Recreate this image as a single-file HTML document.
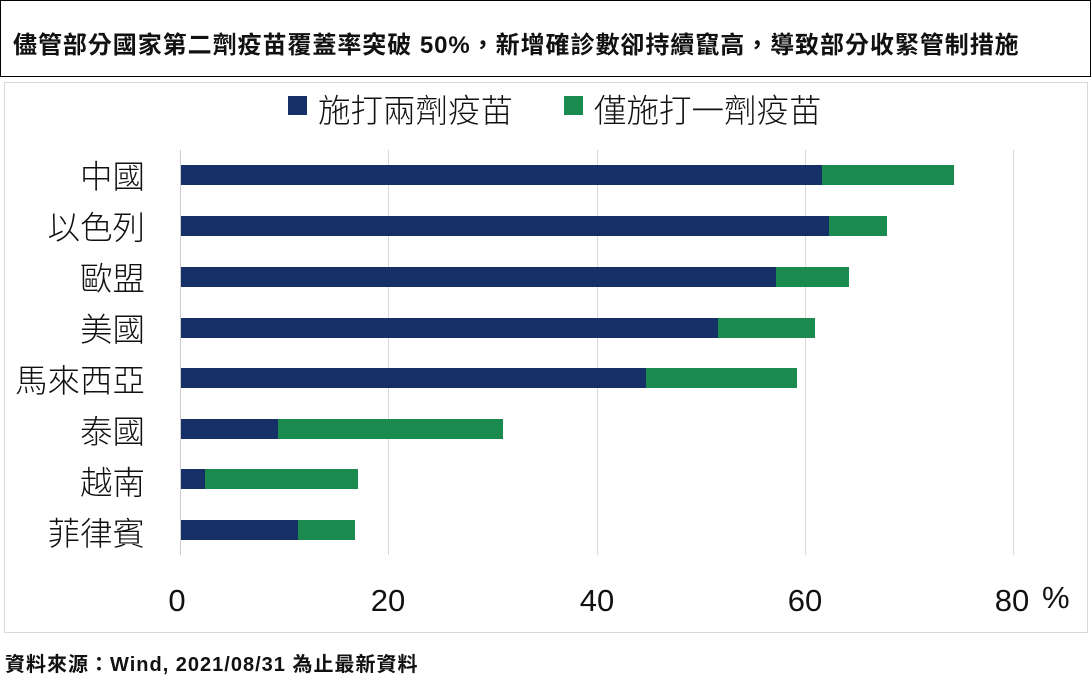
<!DOCTYPE html>
<html><head><meta charset="utf-8"><style>
body{margin:0;width:1091px;height:698px;background:#fff;position:relative;overflow:hidden;font-family:"Liberation Sans","Noto Sans CJK TC",sans-serif;}
.a{position:absolute}
.t{position:absolute;white-space:nowrap}
.lab{position:absolute;right:946px;font-size:32.5px;color:#111;line-height:32px;font-weight:300;font-family:"Noto Sans CJK TC",sans-serif}
.d{position:absolute;background:#163067;height:20px}
.g{position:absolute;background:#1b8a4e;height:20px}
.grid{position:absolute;top:150px;width:1px;height:405px;background:#d9d9d9}
.tick{position:absolute;top:583px;font-size:31px;color:#111;width:80px;text-align:center}
</style></head><body>
<div class="a" style="left:0;top:0;width:1089px;height:75px;border:1px solid #000;border-bottom:1.5px solid #000"></div>
<div class="t" style="left:13px;top:25px;font-size:24px;font-weight:bold;color:#111;letter-spacing:0.95px">儘管部分國家第二劑疫苗覆蓋率突破 50%，新增確診數卻持續竄高，導致部分收緊管制措施</div>
<div class="a" style="left:4px;top:82px;width:1082px;height:549px;border:1.5px solid #d9d9d9"></div>
<div class="a" style="left:288px;top:96px;width:19px;height:19px;background:#163067"></div>
<div class="t" style="left:318px;top:86px;font-size:32.5px;color:#111;font-weight:300;font-family:'Noto Sans CJK TC',sans-serif;line-height:46px">施打兩劑疫苗</div>
<div class="a" style="left:564px;top:96px;width:19px;height:19px;background:#1b8a4e"></div>
<div class="t" style="left:594px;top:86px;font-size:32.5px;color:#111;font-weight:300;font-family:'Noto Sans CJK TC',sans-serif;line-height:46px">僅施打一劑疫苗</div>
<div class="grid" style="left:180px;background:#ccc"></div>
<div class="grid" style="left:388px"></div>
<div class="grid" style="left:597px"></div>
<div class="grid" style="left:805px"></div>
<div class="grid" style="left:1013px"></div>
<div class="lab" style="top:159px">中國</div>
<div class="lab" style="top:210px">以色列</div>
<div class="lab" style="top:261px">歐盟</div>
<div class="lab" style="top:312px">美國</div>
<div class="lab" style="top:363px">馬來西亞</div>
<div class="lab" style="top:414px">泰國</div>
<div class="lab" style="top:465px">越南</div>
<div class="lab" style="top:516px">菲律賓</div>
<div class="d" style="left:181px;top:165px;width:641px"></div><div class="g" style="left:822px;top:165px;width:132px"></div>
<div class="d" style="left:181px;top:216px;width:648px"></div><div class="g" style="left:829px;top:216px;width:58px"></div>
<div class="d" style="left:181px;top:267px;width:595px"></div><div class="g" style="left:776px;top:267px;width:73px"></div>
<div class="d" style="left:181px;top:318px;width:537px"></div><div class="g" style="left:718px;top:318px;width:97px"></div>
<div class="d" style="left:181px;top:368px;width:465px"></div><div class="g" style="left:646px;top:368px;width:151px"></div>
<div class="d" style="left:181px;top:419px;width:97px"></div><div class="g" style="left:278px;top:419px;width:225px"></div>
<div class="d" style="left:181px;top:469px;width:24px"></div><div class="g" style="left:205px;top:469px;width:153px"></div>
<div class="d" style="left:181px;top:520px;width:117px"></div><div class="g" style="left:298px;top:520px;width:57px"></div>
<div class="tick" style="left:137px">0</div>
<div class="tick" style="left:348px">20</div>
<div class="tick" style="left:557px">40</div>
<div class="tick" style="left:765px">60</div>
<div class="tick" style="left:972px">80</div>
<div class="t" style="left:1042px;top:580px;font-size:31px;color:#111">%</div>
<div class="t" style="left:5px;top:648px;font-size:20px;font-weight:bold;color:#111;letter-spacing:1px">資料來源：Wind, 2021/08/31 為止最新資料</div>
</body></html>
